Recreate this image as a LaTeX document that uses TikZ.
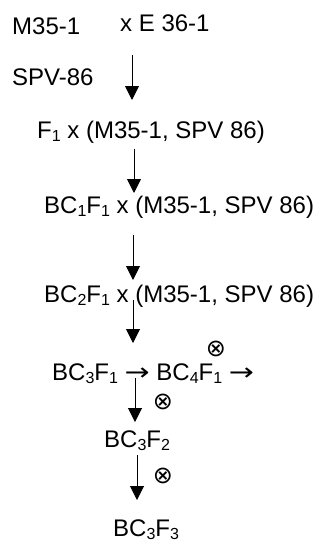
\documentclass[tikz,border=0pt]{standalone}
\usepackage{fontspec}
\usepackage{graphicx}
\setmainfont{Liberation Sans}
\newfontfamily\symfont{DejaVu Sans}
\usetikzlibrary{arrows.meta}
\newcommand{\sbs}[1]{\raisebox{-3.5pt}{\fontsize{16}{16}\selectfont #1}}
\newcommand{\harr}{{\symfont\fontsize{24}{24}\selectfont\scalebox{1.25}[1]{→}}}
\tikzset{
  lbl/.style={anchor=base west, inner sep=0pt, font=\fontsize{24}{24}\selectfont},
  otimes/.style={inner sep=0pt, font=\symfont\fontsize{24}{24}\selectfont},
  arr/.style={line width=1pt, -{Triangle[width=14pt,length=14pt]}}
}
\begin{document}
\begin{tikzpicture}[x=1pt,y=-1pt]
\useasboundingbox (0,0) rectangle (328,543);
\node[lbl] (m) at (12,35) {M35-1};
\node[lbl] (xe) at (120,32) {x E 36-1};
\node[lbl] (spv) at (12,85) {SPV-86};
\node[lbl] (f1) at (37,138) {F\sbs{1} x (M35-1, SPV 86)};
\node[lbl] (bc1) at (44,213) {BC\sbs{1}F\sbs{1} x (M35-1, SPV 86)};
\node[lbl] (bc2) at (44,302) {BC\sbs{2}F\sbs{1} x (M35-1, SPV 86)};
\node[lbl] (bc3) at (52,380) {BC\sbs{3}F\sbs{1} \harr{} BC\sbs{4}F\sbs{1} \harr};
\node[otimes] (o1) at (216,349) {⊗};
\node[otimes] (o2) at (163,402) {⊗};
\node[lbl] (bc3f2) at (104,447) {BC\sbs{3}F\sbs{2}};
\node[otimes] (o3) at (163,476) {⊗};
\node[lbl] (bc3f3) at (113,536) {BC\sbs{3}F\sbs{3}};
\coordinate (a1s) at (132,55); \coordinate (a1e) at (132,100);
\coordinate (a2s) at (134,149); \coordinate (a2e) at (134,193);
\coordinate (a3s) at (133,235); \coordinate (a3e) at (133,280);
\coordinate (a4s) at (133,300); \coordinate (a4e) at (133,343);
\coordinate (a5s) at (135,378); \coordinate (a5e) at (135,422);
\coordinate (a6s) at (137,455); \coordinate (a6e) at (137,500);
\draw[arr] (a1s) -- (a1e);
\draw[arr] (a2s) -- (a2e);
\draw[arr] (a3s) -- (a3e);
\draw[arr] (a4s) -- (a4e);
\draw[arr] (a5s) -- (a5e);
\draw[arr] (a6s) -- (a6e);
\end{tikzpicture}
\end{document}
